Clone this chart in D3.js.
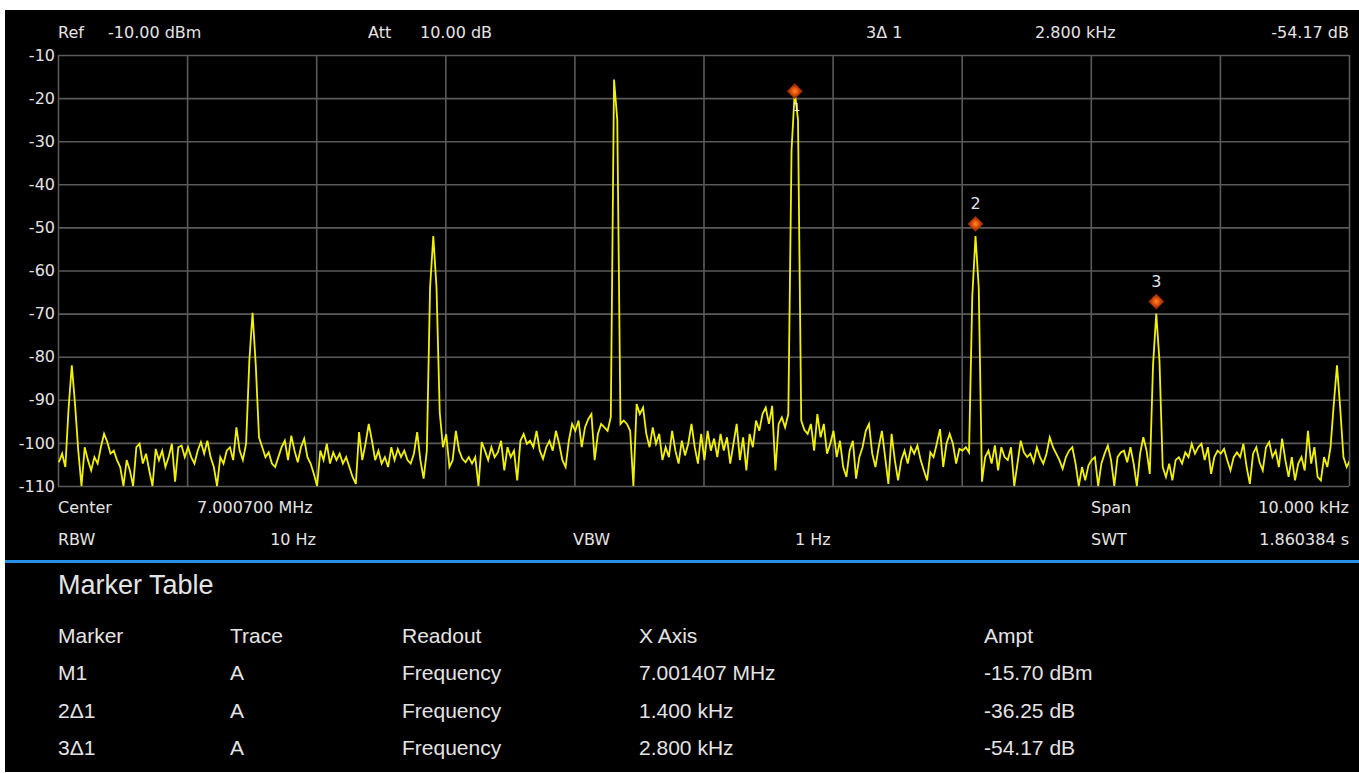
<!DOCTYPE html>
<html><head><meta charset="utf-8">
<script src="https://cdn.jsdelivr.net/npm/d3@7"></script>
<style>
html,body{margin:0;padding:0;background:#fff;}
svg{display:block;}
</style></head>
<body>
<svg id="c" width="1359" height="773"></svg>
<script>
// ---------------- data ----------------
const centerMHz = 7.000700;
const spanMHz = 0.010;
const traceStartMHz = 6.995707;
const traceStepMHz = 0.000025;
const yTicks = [-10,-20,-30,-40,-50,-60,-70,-80,-90,-100,-110];
const xDivisions = [0,1,2,3,4,5,6,7,8,9,10];
const traceDb = [
-104.5,-102.5,-105.6,-92,-82,-91,-101.8,-110,-101,-104,
-106.4,-103.3,-104.8,-101,-97.9,-99.8,-102.5,-101.8,-104,-105.6,
-110,-104,-106.4,-110,-101,-100.2,-104.8,-102.5,-106.4,-110,
-101.4,-104,-101.8,-105.6,-103.3,-100.2,-109,-101,-100.6,-103.3,
-101,-103.3,-104.8,-101.8,-99.8,-102.5,-99.5,-103.3,-105.6,-110,
-103.3,-104.8,-101.8,-101,-104,-96.4,-101.8,-104,-100.2,-81,
-69.8,-82,-98.7,-101,-103.3,-102.2,-104.8,-105.6,-103.3,-101,
-99.5,-104,-98.3,-101.8,-104.5,-101,-99,-103.3,-104.8,-107.2,
-110,-101.8,-104,-100.2,-104.8,-102.2,-104,-102.5,-104.8,-103.3,
-105.6,-107.9,-109.5,-97.5,-104,-100.2,-95.6,-99.5,-104,-101.8,
-104.8,-103.3,-105.6,-101,-104,-101.4,-103.3,-101.8,-104,-104.8,
-102.5,-97.5,-104,-108.3,-101.8,-64,-52,-64,-93,-101,
-98,-105.6,-104,-97.2,-101.8,-103.7,-104.5,-103.3,-104.8,-103.3,
-110,-99.8,-101.8,-104,-101,-103.3,-102.2,-99.5,-106.4,-101,
-103.3,-101.8,-108.7,-99.5,-97.9,-100.2,-99.5,-101,-97.2,-101.8,
-103.7,-101,-99.5,-101.8,-97.2,-100.2,-104,-105.6,-99.5,-95.6,
-97.2,-94.8,-101,-96.4,-94.5,-93.3,-104,-97.9,-95.6,-96.4,
-97.2,-94,-15.7,-25,-95.6,-94.8,-95.6,-97.2,-110,-91,
-93.3,-91.8,-97.9,-101,-96.4,-100.2,-97.9,-104,-101,-103.3,
-97.2,-101.8,-104.8,-99.5,-102.9,-100.2,-95.6,-101,-104.8,-97.9,
-104,-97.2,-101.8,-99,-103.3,-97.9,-101.8,-98.7,-104.8,-100.2,
-95.6,-104,-98.7,-106.4,-97.9,-101,-94.8,-97.2,-93.3,-91.8,
-95.6,-91.4,-106.4,-95.6,-94.1,-96.4,-93.3,-32,-18.5,-25,
-94.8,-97,-97.9,-95.6,-101.8,-93.3,-98.7,-95.6,-102.5,-100.2,
-97.2,-103.3,-99.5,-105.6,-107.9,-101.8,-99.5,-108.3,-103.3,-101,
-97.2,-95.6,-102.5,-105.6,-101,-97.2,-103.3,-109.5,-97.9,-104,
-108.7,-104,-101.8,-104.8,-101,-102.5,-100.6,-104,-106.4,-108.7,
-102.2,-103.3,-100.2,-96.8,-105.6,-100.2,-97.9,-100.2,-104.8,-101.4,
-101.8,-101,-102.2,-66,-52,-64,-109,-103.3,-101.8,-104.8,
-100.6,-106.4,-101,-103.3,-104,-101,-110,-104.8,-99.5,-102.2,
-103.3,-102.5,-104.5,-101,-103.3,-104.8,-102.5,-98.7,-101,-102.5,
-104,-106,-103.3,-101.8,-101,-104.8,-110,-105.6,-108.7,-105.2,
-104,-103.3,-110,-104.8,-102.5,-100.6,-104,-110,-103.3,-102.2,
-101.8,-104.5,-101,-104.8,-110,-102.5,-98.7,-101.8,-107.2,-82,
-70,-81,-105.6,-107.9,-104.8,-108.7,-104,-103.3,-104.8,-102.2,
-103.3,-100.2,-102.5,-101,-100.2,-104,-101,-107.2,-103.3,-101.8,
-102.5,-101.4,-104,-106.4,-103.3,-102.2,-103.3,-100.2,-105.6,-109.5,
-102.5,-101,-104.5,-106.4,-101,-99.8,-103.3,-101.8,-105.6,-99,
-104,-107.9,-103.3,-108.7,-104.8,-103.3,-106.4,-97.2,-104.8,-101,
-107.9,-108.7,-103.3,-105.6,-101,-91,-82,-92,-103.3,-105.6,
-104
];
const markerNames = ["1","2","3"];
const markerFreqMHz = [7.001407, 7.002807, 7.004207];
const markerDisplayDb = [-18.4, -49.2, -67.2];

const headerTexts = [
  {t:"Ref", x:58, a:"start"}, {t:"-10.00 dBm", x:108, a:"start"},
  {t:"Att", x:368, a:"start"}, {t:"10.00 dB", x:420, a:"start"},
  {t:"3\u0394 1", x:866, a:"start"}, {t:"2.800 kHz", x:1035, a:"start"},
  {t:"-54.17 dB", x:1349, a:"end"}
];
const infoRow1 = [
  {t:"Center", x:58, a:"start"}, {t:"7.000700 MHz", x:197, a:"start"},
  {t:"Span", x:1091, a:"start"}, {t:"10.000 kHz", x:1349, a:"end"}
];
const infoRow2 = [
  {t:"RBW", x:58, a:"start"}, {t:"10 Hz", x:316, a:"end"},
  {t:"VBW", x:573, a:"start"}, {t:"1 Hz", x:795, a:"start"},
  {t:"SWT", x:1091, a:"start"}, {t:"1.860384 s", x:1349, a:"end"}
];
const tableColumns = ["Marker","Trace","Readout","X Axis","Ampt"];
const tableRows = [
  ["M1","A","Frequency","7.001407 MHz","-15.70 dBm"],
  ["2\u03941","A","Frequency","1.400 kHz","-36.25 dB"],
  ["3\u03941","A","Frequency","2.800 kHz","-54.17 dB"]
];

// ---------------- drawing ----------------
const svg = d3.select("#c");
svg.append("rect").attr("x",0).attr("y",0).attr("width",1359).attr("height",773).attr("fill","#fff");
svg.append("rect").attr("x",5).attr("y",10).attr("width",1354).attr("height",762).attr("fill","#000");

const L=58, R=1349, T=55, B=486;
const x = d3.scaleLinear().domain([centerMHz - spanMHz/2, centerMHz + spanMHz/2]).range([L, R]);
const y = d3.scaleLinear().domain([-110, -10]).range([B, T]);
const gridColor = "#5a5a5a";
const txtFont = "'DejaVu Sans', Verdana, sans-serif";
const txtColor = "#e4e4e4";

// vertical grid via axis
const xg = svg.append("g").attr("transform",`translate(0,${B})`)
  .call(d3.axisBottom(x).tickValues(xDivisions.map(k => x.domain()[0] + k*spanMHz/10))
        .tickSize(-(B-T)).tickFormat(""));
xg.select(".domain").remove();
xg.selectAll(".tick line").attr("stroke",gridColor).attr("stroke-width",1.6);

// horizontal grid + labels via axis
const yg = svg.append("g").attr("transform",`translate(${L},0)`)
  .call(d3.axisLeft(y).tickValues(yTicks).tickSize(-(R-L)).tickPadding(3).tickFormat(d=>d));
yg.select(".domain").remove();
yg.selectAll(".tick line").attr("stroke",gridColor).attr("stroke-width",1.6);
yg.selectAll(".tick text").attr("fill",txtColor).attr("font-family",txtFont).attr("font-size",16);

// trace
svg.append("clipPath").attr("id","clip").append("rect").attr("x",L).attr("y",T-2).attr("width",R-L).attr("height",B-T+3);
const line = d3.line().x((d,i)=>x(traceStartMHz + i*traceStepMHz)).y(d=>y(d));
svg.append("path").datum(traceDb).attr("d",line).attr("clip-path","url(#clip)")
  .attr("fill","none").attr("stroke","#f2f200").attr("stroke-width",1.8).attr("stroke-linejoin","miter");

// markers
const defs = svg.append("defs");
const rg = defs.append("radialGradient").attr("id","mk");
rg.append("stop").attr("offset","0%").attr("stop-color","#ff8a2a");
rg.append("stop").attr("offset","60%").attr("stop-color","#e0520c");
rg.append("stop").attr("offset","100%").attr("stop-color","#a83000");
const sym = d3.symbol().type(d3.symbolSquare).size(125);
markerNames.forEach((n,i)=>{
  const mx = x(markerFreqMHz[i]), my = y(markerDisplayDb[i]);
  svg.append("path").attr("d",sym()).attr("transform",`translate(${mx},${my}) rotate(45)`)
    .attr("fill","url(#mk)");
  if (i>0) {
    svg.append("text").attr("x",mx).attr("y",my-15).attr("text-anchor","middle")
      .attr("font-family",txtFont).attr("font-size",16).attr("fill","#dfe6f0").text(n);
  } else {
    svg.append("text").attr("x",mx+2).attr("y",my+20).attr("text-anchor","middle")
      .attr("font-family",txtFont).attr("font-size",11).attr("fill","#f0f0f0").text(n);
  }
});

// header + info texts
function textRow(arr, yy){
  svg.append("g").selectAll("text").data(arr).join("text")
    .attr("x",d=>d.x).attr("y",yy).attr("text-anchor",d=>d.a)
    .attr("font-family",txtFont).attr("font-size",16).attr("fill",txtColor).text(d=>d.t);
}
textRow(headerTexts, 38);
textRow(infoRow1, 513);
textRow(infoRow2, 545);

// blue separator
svg.append("rect").attr("x",5).attr("y",560).attr("width",1354).attr("height",3).attr("fill","#2590e6");

// marker table
const tFont = "'Liberation Sans Narrow','Liberation Sans', Arial, sans-serif";
svg.append("text").attr("x",58).attr("y",594).attr("font-family",tFont).attr("font-size",27)
  .attr("fill",txtColor).text("Marker Table");
const colX = [58,230,402,639,984];
const rowY = [643,680,718,755];
svg.append("g").selectAll("text").data(tableColumns).join("text")
  .attr("x",(d,i)=>colX[i]).attr("y",rowY[0]).attr("font-family",tFont).attr("font-size",21)
  .attr("fill",txtColor).text(d=>d);
tableRows.forEach((r,ri)=>{
  svg.append("g").selectAll("text").data(r).join("text")
    .attr("x",(d,i)=>colX[i]).attr("y",rowY[ri+1]).attr("font-family",tFont).attr("font-size",21)
    .attr("fill",txtColor).text(d=>d);
});
</script>
</body></html>
